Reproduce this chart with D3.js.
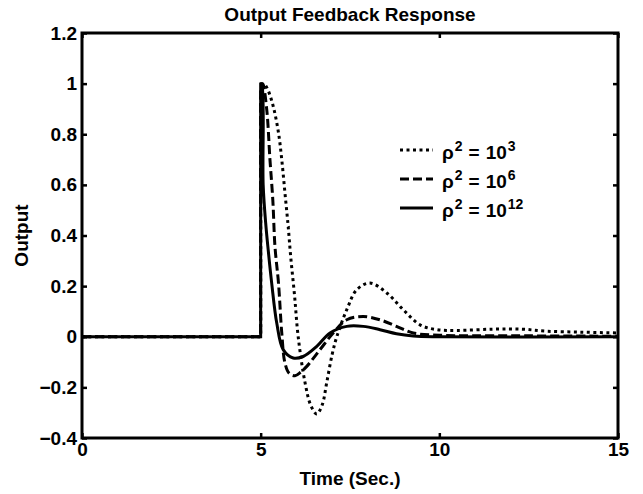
<!DOCTYPE html>
<html>
<head>
<meta charset="utf-8">
<script src="https://cdn.jsdelivr.net/npm/d3@7"></script>
<style>
  html, body { margin: 0; padding: 0; background: #fff; }
  svg text { font-family: "Liberation Sans", Arial, sans-serif; font-weight: bold; fill: #000; }
</style>
</head>
<body>
<svg id="chart" width="643" height="494"></svg>
<script>
// ---- data ----
const xTicks = [0, 5, 10, 15];
const yTicks = [-0.4, -0.2, 0, 0.2, 0.4, 0.6, 0.8, 1, 1.2];
const yTickLabels = ["\u22120.4", "\u22120.2", "0", "0.2", "0.4", "0.6", "0.8", "1", "1.2"];

// rho^2 = 10^3 (dotted)
const tDotted = [0, 5, 5, 5.08, 5.17, 5.27, 5.37, 5.5, 5.59, 5.68, 5.77, 5.84, 5.95, 6.05, 6.24, 6.4, 6.57, 6.72, 6.85, 7.0, 7.13, 7.41, 7.69, 8.06, 8.53, 8.99, 9.46, 9.93, 10.5, 11.5, 12.3, 13, 14, 15];
const vDotted = [0, 0, 0.96, 1.0, 0.985, 0.95, 0.9, 0.805, 0.70, 0.568, 0.436, 0.317, 0.16, 0.0, -0.18, -0.27, -0.305, -0.27, -0.18, -0.07, 0.0, 0.107, 0.186, 0.212, 0.173, 0.107, 0.047, 0.028, 0.025, 0.03, 0.03, 0.022, 0.018, 0.015];

// rho^2 = 10^6 (dashed)
const tDashed = [0, 5, 5, 5.06, 5.17, 5.26, 5.34, 5.4, 5.5, 5.59, 5.68, 5.8, 5.96, 6.12, 6.29, 6.66, 7.03, 7.41, 7.87, 8.34, 8.8, 9.27, 10, 12, 15];
const vDashed = [0, 0, 0.97, 1.0, 0.897, 0.70, 0.54, 0.357, 0.21, 0.016, -0.104, -0.145, -0.154, -0.14, -0.117, -0.051, 0.015, 0.067, 0.08, 0.067, 0.041, 0.015, 0.006, 0.004, 0.002];

// rho^2 = 10^12 (solid)
const tSolid = [0, 5, 5, 5.03, 5.07, 5.14, 5.21, 5.31, 5.45, 5.63, 5.91, 6.19, 6.57, 6.94, 7.41, 7.87, 8.34, 8.8, 9.27, 10, 15];
const vSolid = [0, 0, 1.0, 1.0, 0.6, 0.45, 0.344, 0.21, 0.054, -0.051, -0.084, -0.078, -0.038, 0.015, 0.041, 0.041, 0.028, 0.012, 0.003, 0, 0];

const legendExps = ["3", "6", "12"];
const dashStyles = ["3,3.5", "9,4", null];

// ---- layout ----
const svg = d3.select("#chart");
const L = 82, R = 618, T = 33, B = 438;
const x = d3.scaleLinear().domain([0, 15]).range([L, R]);
const y = d3.scaleLinear().domain([-0.4, 1.2]).range([B, T]);

const series = [
  { t: tDotted, v: vDotted, dash: dashStyles[0] },
  { t: tDashed, v: vDashed, dash: dashStyles[1] },
  { t: tSolid, v: vSolid, dash: dashStyles[2] }
];

// straight part (flat + step) is linear, response after the step is smooth
const lineLin = d3.line().x(d => x(d[0])).y(d => y(d[1]));
const lineSmooth = d3.line().x(d => x(d[0])).y(d => y(d[1]))
  .curve(d3.curveCatmullRom.alpha(0.5));

const pathFor = s => {
  const pts = s.t.map((t, i) => [t, s.v[i]]);
  const a = lineLin(pts.slice(0, 3));
  const b = lineSmooth(pts.slice(2));
  return a + b.replace(/^M[^A-Za-z]*/, "");
};

svg.append("g").selectAll("path").data(series).join("path")
  .attr("d", pathFor)
  .attr("fill", "none")
  .attr("stroke", "#000")
  .attr("stroke-width", 3)
  .attr("stroke-linejoin", "miter")
  .attr("stroke-dasharray", s => s.dash);

// axes (ticks inward)
const fmt = (d) => yTickLabels[yTicks.indexOf(d)];
const gB = svg.append("g").attr("transform", `translate(0,${B})`)
  .call(d3.axisBottom(x).tickValues(xTicks).tickSizeInner(-5).tickSizeOuter(0).tickPadding(10));
const gT = svg.append("g").attr("transform", `translate(0,${T})`)
  .call(d3.axisTop(x).tickValues(xTicks).tickSizeInner(-5).tickSizeOuter(0).tickFormat(""));
const gL = svg.append("g").attr("transform", `translate(${L},0)`)
  .call(d3.axisLeft(y).tickValues(yTicks).tickSizeInner(-5).tickSizeOuter(0).tickPadding(8).tickFormat(fmt));
const gR = svg.append("g").attr("transform", `translate(${R},0)`)
  .call(d3.axisRight(y).tickValues(yTicks).tickSizeInner(-5).tickSizeOuter(0).tickFormat(""));

[gB, gT, gL, gR].forEach(g => {
  g.select(".domain").remove();
  g.selectAll(".tick line").attr("stroke", "#000").attr("stroke-width", 2.5);
  g.selectAll("text").attr("font-size", 19).attr("font-family", null).attr("fill", "#000");
});
gB.selectAll("text").attr("dy", "0.71em").attr("y", 5);
gL.selectAll("text").attr("x", -5);

svg.append("rect")
  .attr("x", L).attr("y", T).attr("width", R - L).attr("height", B - T)
  .attr("fill", "none").attr("stroke", "#000").attr("stroke-width", 3);

// title and labels
svg.append("text").attr("x", (L + R) / 2).attr("y", 21)
  .attr("text-anchor", "middle").attr("font-size", 19).text("Output Feedback Response");
svg.append("text").attr("x", (L + R) / 2).attr("y", 485)
  .attr("text-anchor", "middle").attr("font-size", 19).text("Time (Sec.)");
svg.append("text").attr("transform", `translate(28,${(T + B) / 2}) rotate(-90)`)
  .attr("text-anchor", "middle").attr("font-size", 19).text("Output");

// legend
const lg = svg.append("g");
const rowY = [150, 179, 208];
series.forEach((s, i) => {
  lg.append("line")
    .attr("x1", 400).attr("x2", 433).attr("y1", rowY[i]).attr("y2", rowY[i])
    .attr("stroke", "#000").attr("stroke-width", 3)
    .attr("stroke-dasharray", s.dash);
  const tx = lg.append("text").attr("x", 442).attr("y", rowY[i] + 9).attr("font-size", 19);
  tx.append("tspan").text("\u03C1");
  tx.append("tspan").attr("dx", 1).attr("dy", -8).attr("font-size", 14).text("2");
  tx.append("tspan").attr("dx", 6).attr("dy", 8).text("=");
  tx.append("tspan").attr("dx", 6).text("10");
  tx.append("tspan").attr("dx", 1).attr("dy", -8).attr("font-size", 14).text(legendExps[i]);
});
</script>
</body>
</html>
